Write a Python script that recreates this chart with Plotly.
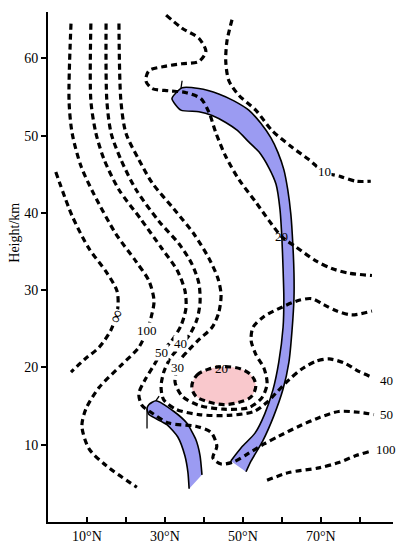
import plotly.graph_objects as go

# contour lines (latitude in degrees N, height in km)
inf_lat = [2.0, 6.2, 10.5, 14.9, 17.7, 17.9, 16.2, 13.1, 9.5, 5.9]
inf_h = [45.3, 39.6, 35.4, 32.4, 29.9, 27.7, 24.9, 22.6, 21.1, 19.4]

c100_lat = [5.9, 5.4, 6.2, 8.5, 11.8, 17.4, 22.6, 25.9, 27.2, 26.4, 25.4, 23.3, 19.0,
            13.1, 9.7, 8.7, 10.5, 14.9, 22.8]
c100_h = [64.5, 54.5, 50.3, 46.0, 42.4, 37.3, 33.7, 31.2, 28.6, 26.4, 24.8, 22.6, 20.4,
          17.4, 14.6, 12.4, 9.5, 7.3, 4.5]

c50_lat = [11.0, 11.0, 12.3, 14.4, 18.2, 23.8, 29.2, 33.1, 35.1, 35.4, 34.1, 31.8, 29.2,
           27.2, 24.9, 23.3, 24.1, 26.4, 31.0, 37.9, 41.8, 43.3, 42.3, 44.4, 47.7, 51.5,
           55.4, 59.2, 64.4, 69.5, 74.6, 79.7, 83.6]
c50_h = [64.5, 54.5, 50.3, 46.9, 43.0, 39.2, 35.4, 32.6, 30.0, 27.7, 25.4, 23.5, 22.0,
         20.3, 18.4, 16.6, 15.1, 14.2, 12.8, 12.4, 11.6, 9.8, 8.3, 7.5, 7.8, 8.9,
         10.1, 11.1, 12.4, 13.5, 14.3, 14.2, 13.9]

c40_lat = [14.9, 15.1, 16.2, 18.7, 22.6, 28.5, 33.6, 36.9, 38.7, 39.0, 38.2, 36.4, 34.4,
           31.5, 29.7, 29.0, 29.7, 32.8, 38.7, 46.4, 52.8, 56.2, 58.5, 61.8, 65.1, 68.7,
           72.1, 75.9, 79.7, 82.8]
c40_h = [64.5, 54.5, 50.3, 46.9, 43.0, 38.9, 36.0, 33.4, 30.9, 28.4, 26.2, 24.3, 23.0,
         21.3, 19.4, 17.5, 15.8, 14.6, 13.9, 13.8, 14.3, 15.5, 16.7, 18.4, 19.8, 20.8,
         21.1, 20.6, 19.5, 18.8]

c30_lat = [18.2, 18.7, 20.0, 23.3, 26.7, 32.3, 37.4, 41.3, 43.6, 44.4, 43.8, 42.1, 38.7,
           36.2, 34.1, 33.1, 32.6, 34.4, 38.7, 45.1, 51.5, 54.9, 56.2, 55.4, 53.3, 52.1,
           52.6, 55.4, 60.0, 64.4, 67.7, 70.8, 74.1, 77.9, 83.1]
c30_h = [64.5, 54.5, 50.3, 46.9, 43.9, 40.5, 37.3, 34.1, 31.5, 29.4, 27.1, 25.2, 23.6,
         22.3, 21.1, 19.8, 18.1, 16.3, 15.1, 14.6, 14.8, 16.1, 17.9, 19.9, 21.7, 23.5,
         25.2, 26.6, 27.8, 28.7, 28.9, 28.1, 27.3, 26.8, 27.3]

c20_lat = [30.3, 34.4, 38.7, 40.5, 38.7, 34.4, 30.3, 25.9, 25.1, 26.7, 31.0, 35.1, 39.2,
           41.3, 43.1, 45.6, 49.0, 53.3, 56.7, 60.0, 63.6, 68.7, 72.8, 77.2, 83.1]
c20_h = [65.6, 63.9, 62.6, 60.9, 59.6, 59.3, 59.0, 58.4, 57.1, 56.1, 55.8, 55.6, 54.8,
         53.0, 50.3, 47.3, 44.3, 41.4, 39.0, 36.9, 35.6, 33.8, 32.8, 32.2, 31.9]

c10_lat = [47.2, 45.9, 45.6, 46.4, 49.0, 53.3, 57.4, 62.6, 66.9, 70.8, 75.1, 79.0, 82.8]
c10_h = [65.0, 62.2, 59.6, 57.1, 55.2, 53.3, 50.7, 48.5, 46.9, 45.3, 44.7, 44.1, 44.1]

r100_lat = [56.2, 61.8, 69.5, 74.6, 79.0, 82.3]
r100_h = [5.4, 6.4, 7.0, 7.7, 8.6, 9.1]

# 20 closed contour (pink core)
core_lat = [36.9, 38.2, 41.3, 45.1, 49.5, 52.3, 53.3, 52.1, 49.0, 45.1, 40.8, 37.9, 36.9]
core_h = [17.6, 19.0, 19.8, 20.1, 19.8, 18.9, 17.6, 16.2, 15.5, 15.2, 15.6, 16.3, 17.6]

# jet axes (blue bands): inner edge bottom -> top, then outer edge top -> bottom
jet_lat = [46.9, 49.7, 53.1, 55.6, 57.7, 59.2, 60.3, 60.5, 60.3, 60.0, 59.5, 58.5, 56.7,
           54.1, 51.5, 48.5, 45.6, 42.1, 38.7, 34.1, 31.8,
           34.4, 38.7, 43.8, 47.7, 51.5, 54.6, 57.2, 59.0, 60.5, 61.5, 62.3, 62.8, 63.1,
           63.1, 62.6, 61.8, 60.3, 57.9, 55.1, 52.1, 50.8]
jet_h = [7.9, 9.7, 11.5, 14.0, 17.1, 20.7, 25.2, 29.0, 32.8, 36.7, 40.5, 43.7, 45.8,
         47.9, 49.2, 50.7, 51.7, 52.6, 53.1, 53.3, 54.8,
         56.2, 56.1, 55.4, 54.5, 53.3, 51.6, 49.7, 47.8, 45.6, 43.0, 39.8, 36.0, 32.2,
         29.0, 24.8, 20.7, 17.2, 13.7, 10.5, 7.9, 6.5]

low_jet_lat = [36.2, 35.9, 35.1, 33.3, 30.5, 25.9, 25.4, 25.9, 27.7, 32.3, 35.6, 37.9, 39.0, 39.5]
low_jet_h = [4.3, 6.4, 8.6, 11.0, 12.6, 13.9, 14.7, 15.2, 15.7, 14.3, 12.8, 10.7, 8.6, 6.1]

labels = [
    ("∞", 17.4, 26.7), ("100", 25.4, 24.8), ("50", 29.2, 22.0), ("40", 34.0, 23.1),
    ("30", 33.1, 20.0), ("20", 44.6, 19.9), ("20", 60.0, 36.9), ("10", 70.8, 45.3),
]
end_labels = [("40", 85.0, 18.3), ("50", 85.0, 13.9), ("100", 83.8, 9.4)]

BLUE = '#9b9bf2'
PINK = '#f9c8cc'
FONT = 'Liberation Serif'

fig = go.Figure()

fig.add_trace(go.Scatter(x=jet_lat, y=jet_h, mode='lines', fill='toself', fillcolor=BLUE,
                         line=dict(color='black', width=1.6, shape='spline', smoothing=0.6)))
fig.add_trace(go.Scatter(x=low_jet_lat, y=low_jet_h, mode='lines', fill='toself', fillcolor=BLUE,
                         line=dict(color='black', width=1.6, shape='spline', smoothing=0.6)))
# little ticks at the band ends
fig.add_trace(go.Scatter(x=[34.4, 34.1], y=[57.1, 56.1], mode='lines',
                         line=dict(color='black', width=1.3)))
fig.add_trace(go.Scatter(x=[25.4, 25.4, None, 27.7, 28.5], y=[14.7, 12.1, None, 15.7, 16.3],
                         mode='lines', line=dict(color='black', width=1.3)))

fig.add_trace(go.Scatter(x=core_lat, y=core_h, mode='lines', fill='toself', fillcolor=PINK,
                         line=dict(color='black', width=3.2, dash='6px,4px', shape='spline')))

for xs, ys in [(inf_lat, inf_h), (c100_lat, c100_h), (c50_lat, c50_h), (c40_lat, c40_h),
               (c30_lat, c30_h), (c20_lat, c20_h), (c10_lat, c10_h), (r100_lat, r100_h)]:
    fig.add_trace(go.Scatter(x=xs, y=ys, mode='lines',
                             line=dict(color='black', width=3.2, dash='6px,4px',
                                       shape='spline', smoothing=0.8)))

for text, x, y in labels:
    fig.add_annotation(x=x, y=y, text=text, showarrow=False,
                       textangle=-70 if text == "∞" else 0,
                       font=dict(family=FONT, size=18 if text == "∞" else 13, color='black'),
                       bgcolor='white' if text != "20" else 'rgba(0,0,0,0)',
                       borderpad=0)
for text, x, y in end_labels:
    fig.add_annotation(x=x, y=y, text=text, showarrow=False, xanchor='left',
                       font=dict(family=FONT, size=13, color='black'), bgcolor='white', borderpad=0)

fig.add_annotation(x=-0.096, y=0.567, xref='paper', yref='paper', text='Height/km',
                   showarrow=False, textangle=-90, xanchor='center', yanchor='middle',
                   font=dict(family=FONT, size=14, color='black'))

fig.update_layout(
    width=399, height=550,
    margin=dict(l=48, r=6, t=12, b=23),
    plot_bgcolor='white', paper_bgcolor='white',
    showlegend=False,
    font=dict(family=FONT, size=14, color='black'),
    xaxis=dict(range=[0, 88.5], showgrid=False, zeroline=False, showline=True,
               linecolor='black', linewidth=2, ticks='inside', ticklen=5, tickwidth=1.5,
               tickcolor='black',
               tickvals=[10, 20, 30, 40, 50, 60, 70, 80],
               ticktext=['10°N', '', '30°N', '', '50°N', '', '70°N', '']),
    yaxis=dict(range=[0, 66], showgrid=False, zeroline=False, showline=True,
               linecolor='black', linewidth=2, ticks='outside', ticklen=5, tickwidth=1.5,
               tickcolor='black', tickvals=[10, 20, 30, 40, 50, 60]),
)

# drop the default page margin so the 399x550 figure fills the window exactly
fig.write_html("out.html", config={'displayModeBar': False},
               post_script="document.body.style.margin='0';"
                           "document.documentElement.style.overflow='hidden';")
